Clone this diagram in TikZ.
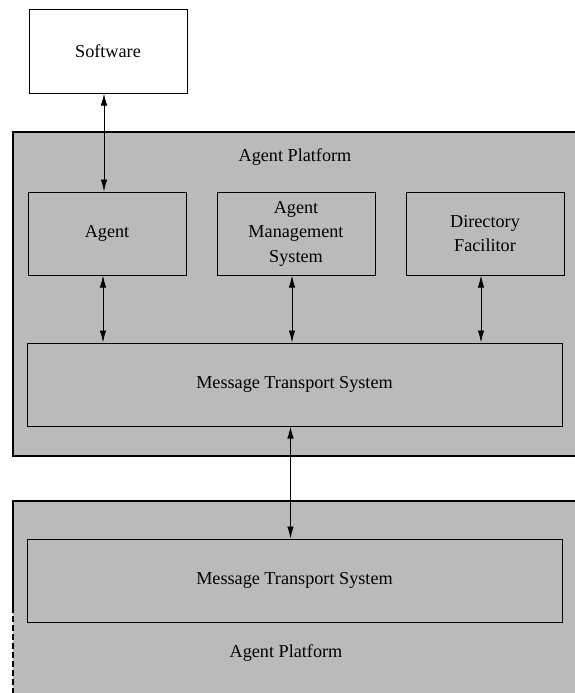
\documentclass[tikz,border=0pt]{standalone}
\usepackage{fontspec}
\setmainfont{Liberation Serif}
\usetikzlibrary{positioning,arrows.meta}

\tikzset{
  box/.style={draw, line width=1pt, minimum width=158pt, minimum height=83pt,
    align=center, inner sep=2pt},
  wide/.style={box, minimum width=535pt},
  link/.style={{Latex[length=12pt,width=6.5pt]}-{Latex[length=12pt,width=6.5pt]}, line width=0.9pt},
  platform/.style={fill=black!27, draw, line width=2pt}
}

\begin{document}
\begin{tikzpicture}[x=1pt, y=1pt, font=\fontsize{18.2}{24.5}\selectfont]
      \useasboundingbox (0,0) rectangle (574,-693) ;

      % the two platforms
      \draw[platform] (13,-132) rectangle (600,-456) ;
      \fill[black!27] (13,-501) rectangle (600,-700) ;
      \draw[line width=2pt] (600,-501) -- (13,-501) -- (13,-607) ;
      \draw[line width=2pt, dash pattern=on 6pt off 3pt] (13,-607) -- (13,-700) ;

      \node (lbl1) at (295,-157) {Agent Platform} ;
      \node (lbl2) at (286,-653) {Agent Platform} ;

      \node[box] (ag) at (107,-233.5) {Agent} ;
      \node[box, right=30pt of ag] (ams) {Agent\\Management\\System} ;
      \node[box, right=30pt of ams] (df) {Directory\\Facilitor} ;
      \node[box, fill=white, above=98pt of ag.north, anchor=south, xshift=1pt] (sw) {Software} ;

      \node[wide] (mts1) at (294.5,-384.5) {Message Transport System} ;
      \node[wide, below=112pt of mts1] (mts2) {Message Transport System} ;

      \draw[link] ([xshift=-4pt]sw.south) -- ([xshift=-4pt]sw.south |- ag.north) ;
      \foreach \n in {ag,ams,df}
        \draw[link] ([xshift=-4pt]\n.south) -- ([xshift=-4pt]\n.south |- mts1.north) ;
      \draw[link] ([xshift=-4pt]mts1.south) -- ([xshift=-4pt]mts2.north) ;

\end{tikzpicture}
\end{document}
